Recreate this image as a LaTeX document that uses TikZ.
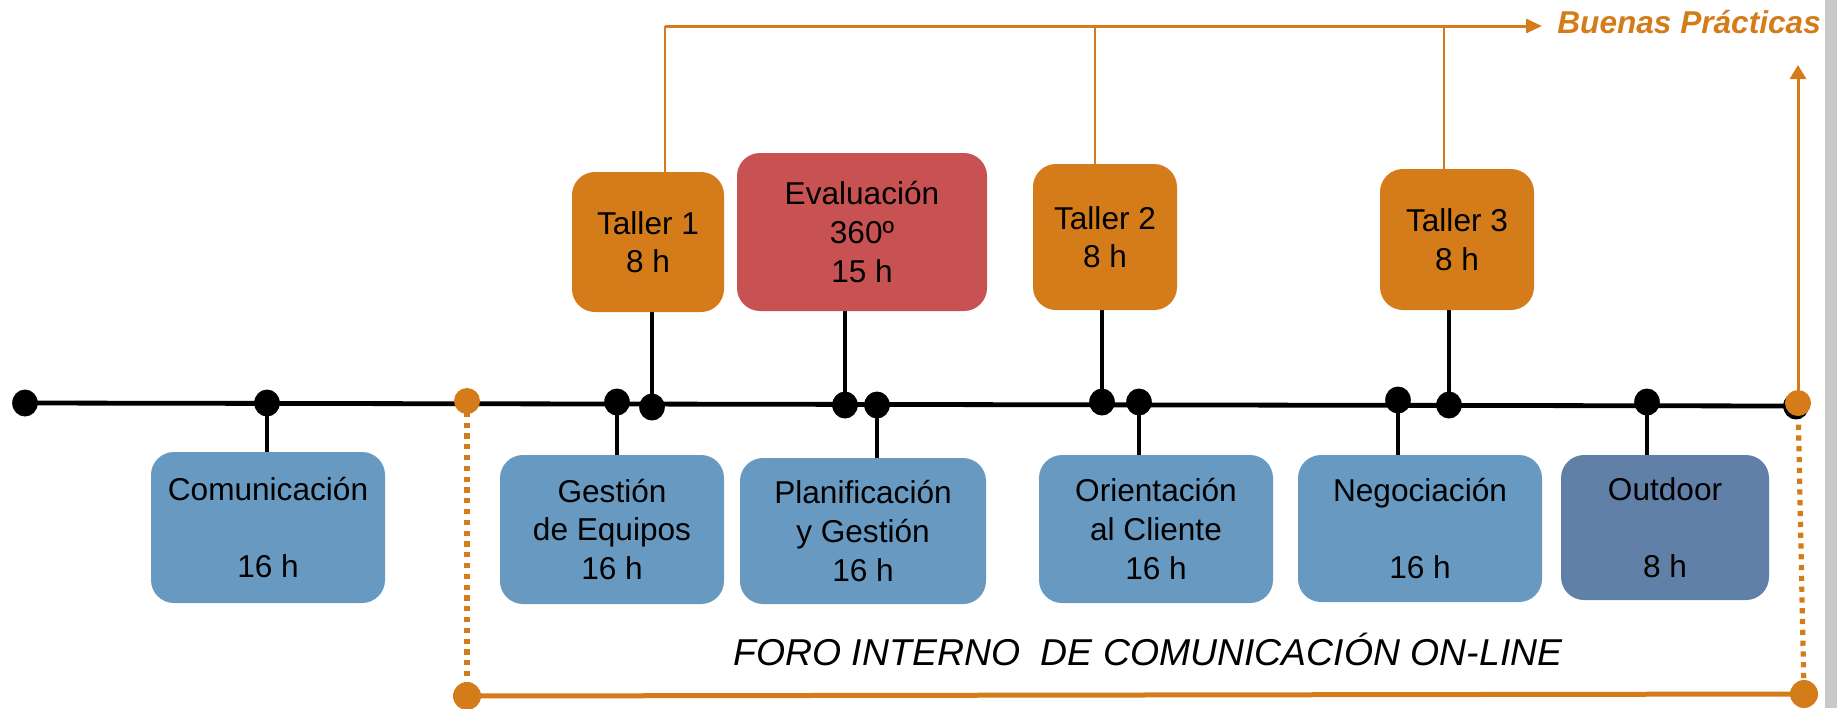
\documentclass[tikz,border=0pt]{standalone}
\usepackage{fontspec}
\setmainfont{Liberation Sans}
\usetikzlibrary{shapes.geometric,arrows.meta}
\pgfdeclarelayer{background}
\pgfsetlayers{background,main}
\definecolor{orangeA}{HTML}{D47C1A}
\definecolor{redA}{HTML}{C85252}
\definecolor{blueA}{HTML}{6799C1}
\definecolor{blueB}{HTML}{6080A8}
\definecolor{grayA}{HTML}{C8C8C8}
\newcommand\boxfont{\fontsize{15.8pt}{19.3pt}\selectfont}
\tikzset{
  box/.style={rectangle, rounded corners=11.5pt, inner sep=0pt, align=center, font=\boxfont, text=black},
  bluebox/.style={box, fill=blueA},
  outbox/.style={box, fill=blueB},
  orbox/.style={box, fill=orangeA},
  redbox/.style={box, fill=redA},
  bdot/.style={ellipse, fill=black, inner sep=0pt, minimum width=12.8pt, minimum height=13.5pt},
  odot/.style={ellipse, fill=orangeA, inner sep=0pt, minimum width=13pt, minimum height=13pt},
  conn/.style={line width=2.2pt, black},
  mainline/.style={line width=2.4pt, black},
  othin/.style={line width=1pt, orangeA},
  otop/.style={line width=1.5pt, orangeA},
  odotted/.style={line width=2.6pt, orangeA, dash pattern=on 2.6pt off 2.8pt},
  obottom/.style={line width=2.5pt, orangeA},
}
\begin{document}
\begin{tikzpicture}[x=0.5pt,y=-0.5pt]
\useasboundingbox (0,0) rectangle (1837,708);
\fill[grayA] (1825,0) rectangle (1837,708);

% boxes below
\node[bluebox, minimum width=117pt, minimum height=75.5pt] (com) at (268,527.5) {Comunicación\\\mbox{}\\16 h};
\node[bluebox, minimum width=112pt, minimum height=74.5pt] (ges) at (612,529.5) {Gestión\\de Equipos\\16 h};
\node[bluebox, minimum width=123pt, minimum height=73pt] (pla) at (863,531) {Planificación\\y Gestión\\16 h};
\node[bluebox, minimum width=117pt, minimum height=74pt] (ori) at (1156,529) {Orientación\\al Cliente\\16 h};
\node[bluebox, minimum width=122pt, minimum height=73.5pt] (neg) at (1420,528.5) {Negociación\\\mbox{}\\16 h};
\node[outbox, minimum width=104pt, minimum height=72.5pt] (out) at (1665,527.5) {Outdoor\\\mbox{}\\8 h};

% boxes above
\node[orbox, minimum width=76pt, minimum height=70pt] (t1) at (648,242) {Taller 1\\8 h};
\node[redbox, minimum width=125pt, minimum height=79pt] (ev) at (862,232) {Evaluación\\360º\\15 h};
\node[orbox, minimum width=72pt, minimum height=73pt] (t2) at (1105,237) {Taller 2\\8 h};
\node[orbox, minimum width=77pt, minimum height=70.5pt] (t3) at (1457,239.5) {Taller 3\\8 h};

% dots on main line
\node[bdot] (d0) at (25,403) {};
\node[bdot] (dcom) at (267,403) {};
\node[odot] (do1) at (467,401) {};
\node[bdot] (dges) at (617,402) {};
\node[bdot] (dt1) at (652,407) {};
\node[bdot] (dev) at (845,405) {};
\node[bdot] (dpla) at (877,405) {};
\node[bdot] (dt2) at (1102,402) {};
\node[bdot] (dori) at (1139,402) {};
\node[bdot] (dneg) at (1398,400) {};
\node[bdot] (dt3) at (1449,405) {};
\node[bdot] (dout) at (1647,402) {};
\node[bdot] (do2s) at (1796,406) {};
\node[odot] (do2) at (1798,403) {};

% bottom dots
\node[odot, minimum width=14pt, minimum height=14pt] (bl) at (467,696) {};
\node[odot, minimum width=14pt, minimum height=14pt] (br) at (1804,694) {};

% texts
\node[anchor=base west, inner sep=0pt, font=\fontsize{15.8pt}{19pt}\selectfont\bfseries\itshape, text=orangeA] (bp) at (1557,33) {Buenas Prácticas};
\node[anchor=base west, inner sep=0pt, font=\fontsize{18.7pt}{22pt}\selectfont\itshape, text=black] (foro) at (733,665) {FORO INTERNO\ \ DE COMUNICACIÓN ON-LINE};

\coordinate (v1) at (665,26);
\coordinate (v2) at (1095,26);
\coordinate (v3) at (1444,26);
\coordinate (tip) at (1542,26);
\coordinate (rtip) at (1798,65);

\begin{pgfonlayer}{background}
\draw[mainline] (d0.center) -- (do2s.center);
\draw[conn] (dcom.center) -- (dcom.center |- com.north);
\draw[conn] (dges.center) -- (dges.center |- ges.north);
\draw[conn] (dpla.center) -- (dpla.center |- pla.north);
\draw[conn] (dori.center) -- (dori.center |- ori.north);
\draw[conn] (dneg.center) -- (dneg.center |- neg.north);
\draw[conn] (dout.center) -- (dout.center |- out.north);
\draw[conn] (dt1.center) -- (dt1.center |- t1.south);
\draw[conn] (dev.center) -- (dev.center |- ev.south);
\draw[conn] (dt2.center) -- (dt2.center |- t2.south);
\draw[conn] (dt3.center) -- (dt3.center |- t3.south);
\draw[othin] (v1 |- t1.north) -- (v1);
\draw[othin] (v2 |- t2.north) -- (v2);
\draw[othin] (v3 |- t3.north) -- (v3);
\draw[otop, -{Triangle[length=8pt,width=7pt]}] (v1) -- (tip);
\draw[otop, -{Triangle[length=7pt,width=8pt]}] (do2.center) -- (rtip);
\draw[odotted] (do1.center) -- (bl.center);
\draw[odotted] (do2.center) -- (br.center);
\draw[obottom] (bl.center) -- (br.center);
\end{pgfonlayer}
\end{tikzpicture}
\end{document}
